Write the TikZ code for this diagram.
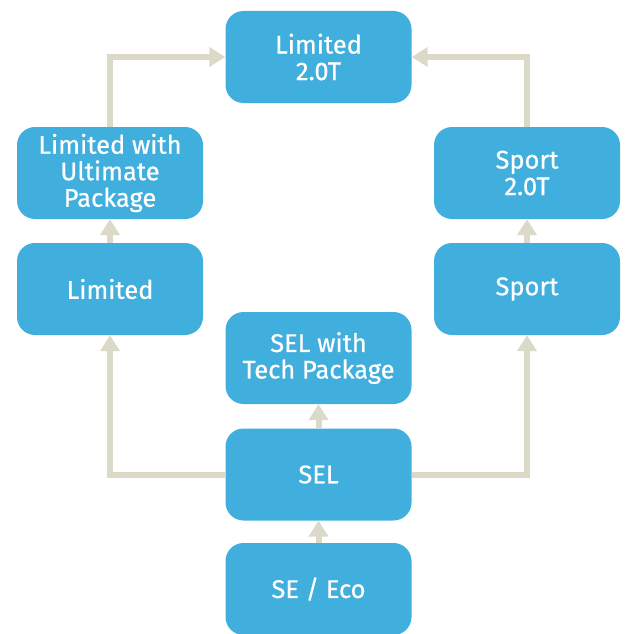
\documentclass[tikz,border=0pt]{standalone}
\usepackage{fontspec}
\setmainfont{Fira Sans}[FakeBold=0.6]
\usepackage{tikz}
\usetikzlibrary{positioning}
\usetikzlibrary{arrows.meta}
\definecolor{trimblue}{RGB}{64,175,221}
\definecolor{pathgrey}{RGB}{219,217,200}
\tikzset{trim/.style={rectangle, rounded corners=18pt, fill=trimblue, text=white,
  minimum width=186pt, minimum height=92pt, inner sep=0pt, align=center,
  font=\fontsize{25.5}{26.5}\selectfont}}
\tikzset{upg/.style={draw=pathgrey, line width=6pt, -{Triangle[width=19pt,length=16pt]}}}
\begin{document}
\begin{tikzpicture}[x=1pt,y=-1pt]
\useasboundingbox (0,0) rectangle (626,634);
\node[trim] (lim2) at (318.5,57) {Limited\\2.0T};
\node[trim] (limult) at (110,173) {Limited with\\Ultimate\\Package};
\node[trim] (lim) at (110,289) {Limited};
\node[trim] (sport2) at (527,173) {Sport\\2.0T};
\node[trim] (sport) at (527,289) {Sport};
\node[trim] (seltech) at (318.5,358) {SEL with\\Tech Package};
\node[trim] (sel) at (318.5,474.5) {SEL};
\node[trim] (seeco) at (318.5,589) {SE / Eco};
\draw[upg] (seeco) -- (sel);
\draw[upg] (sel) -- (seltech);
\draw[upg] (lim) -- (limult);
\draw[upg] (sport) -- (sport2);
\draw[upg] (sel.west) -| (lim.south);
\draw[upg] (sel.east) -| (sport.south);
\draw[upg] (limult.north) |- (lim2.west);
\draw[upg] (sport2.north) |- (lim2.east);
\end{tikzpicture}
\end{document}
